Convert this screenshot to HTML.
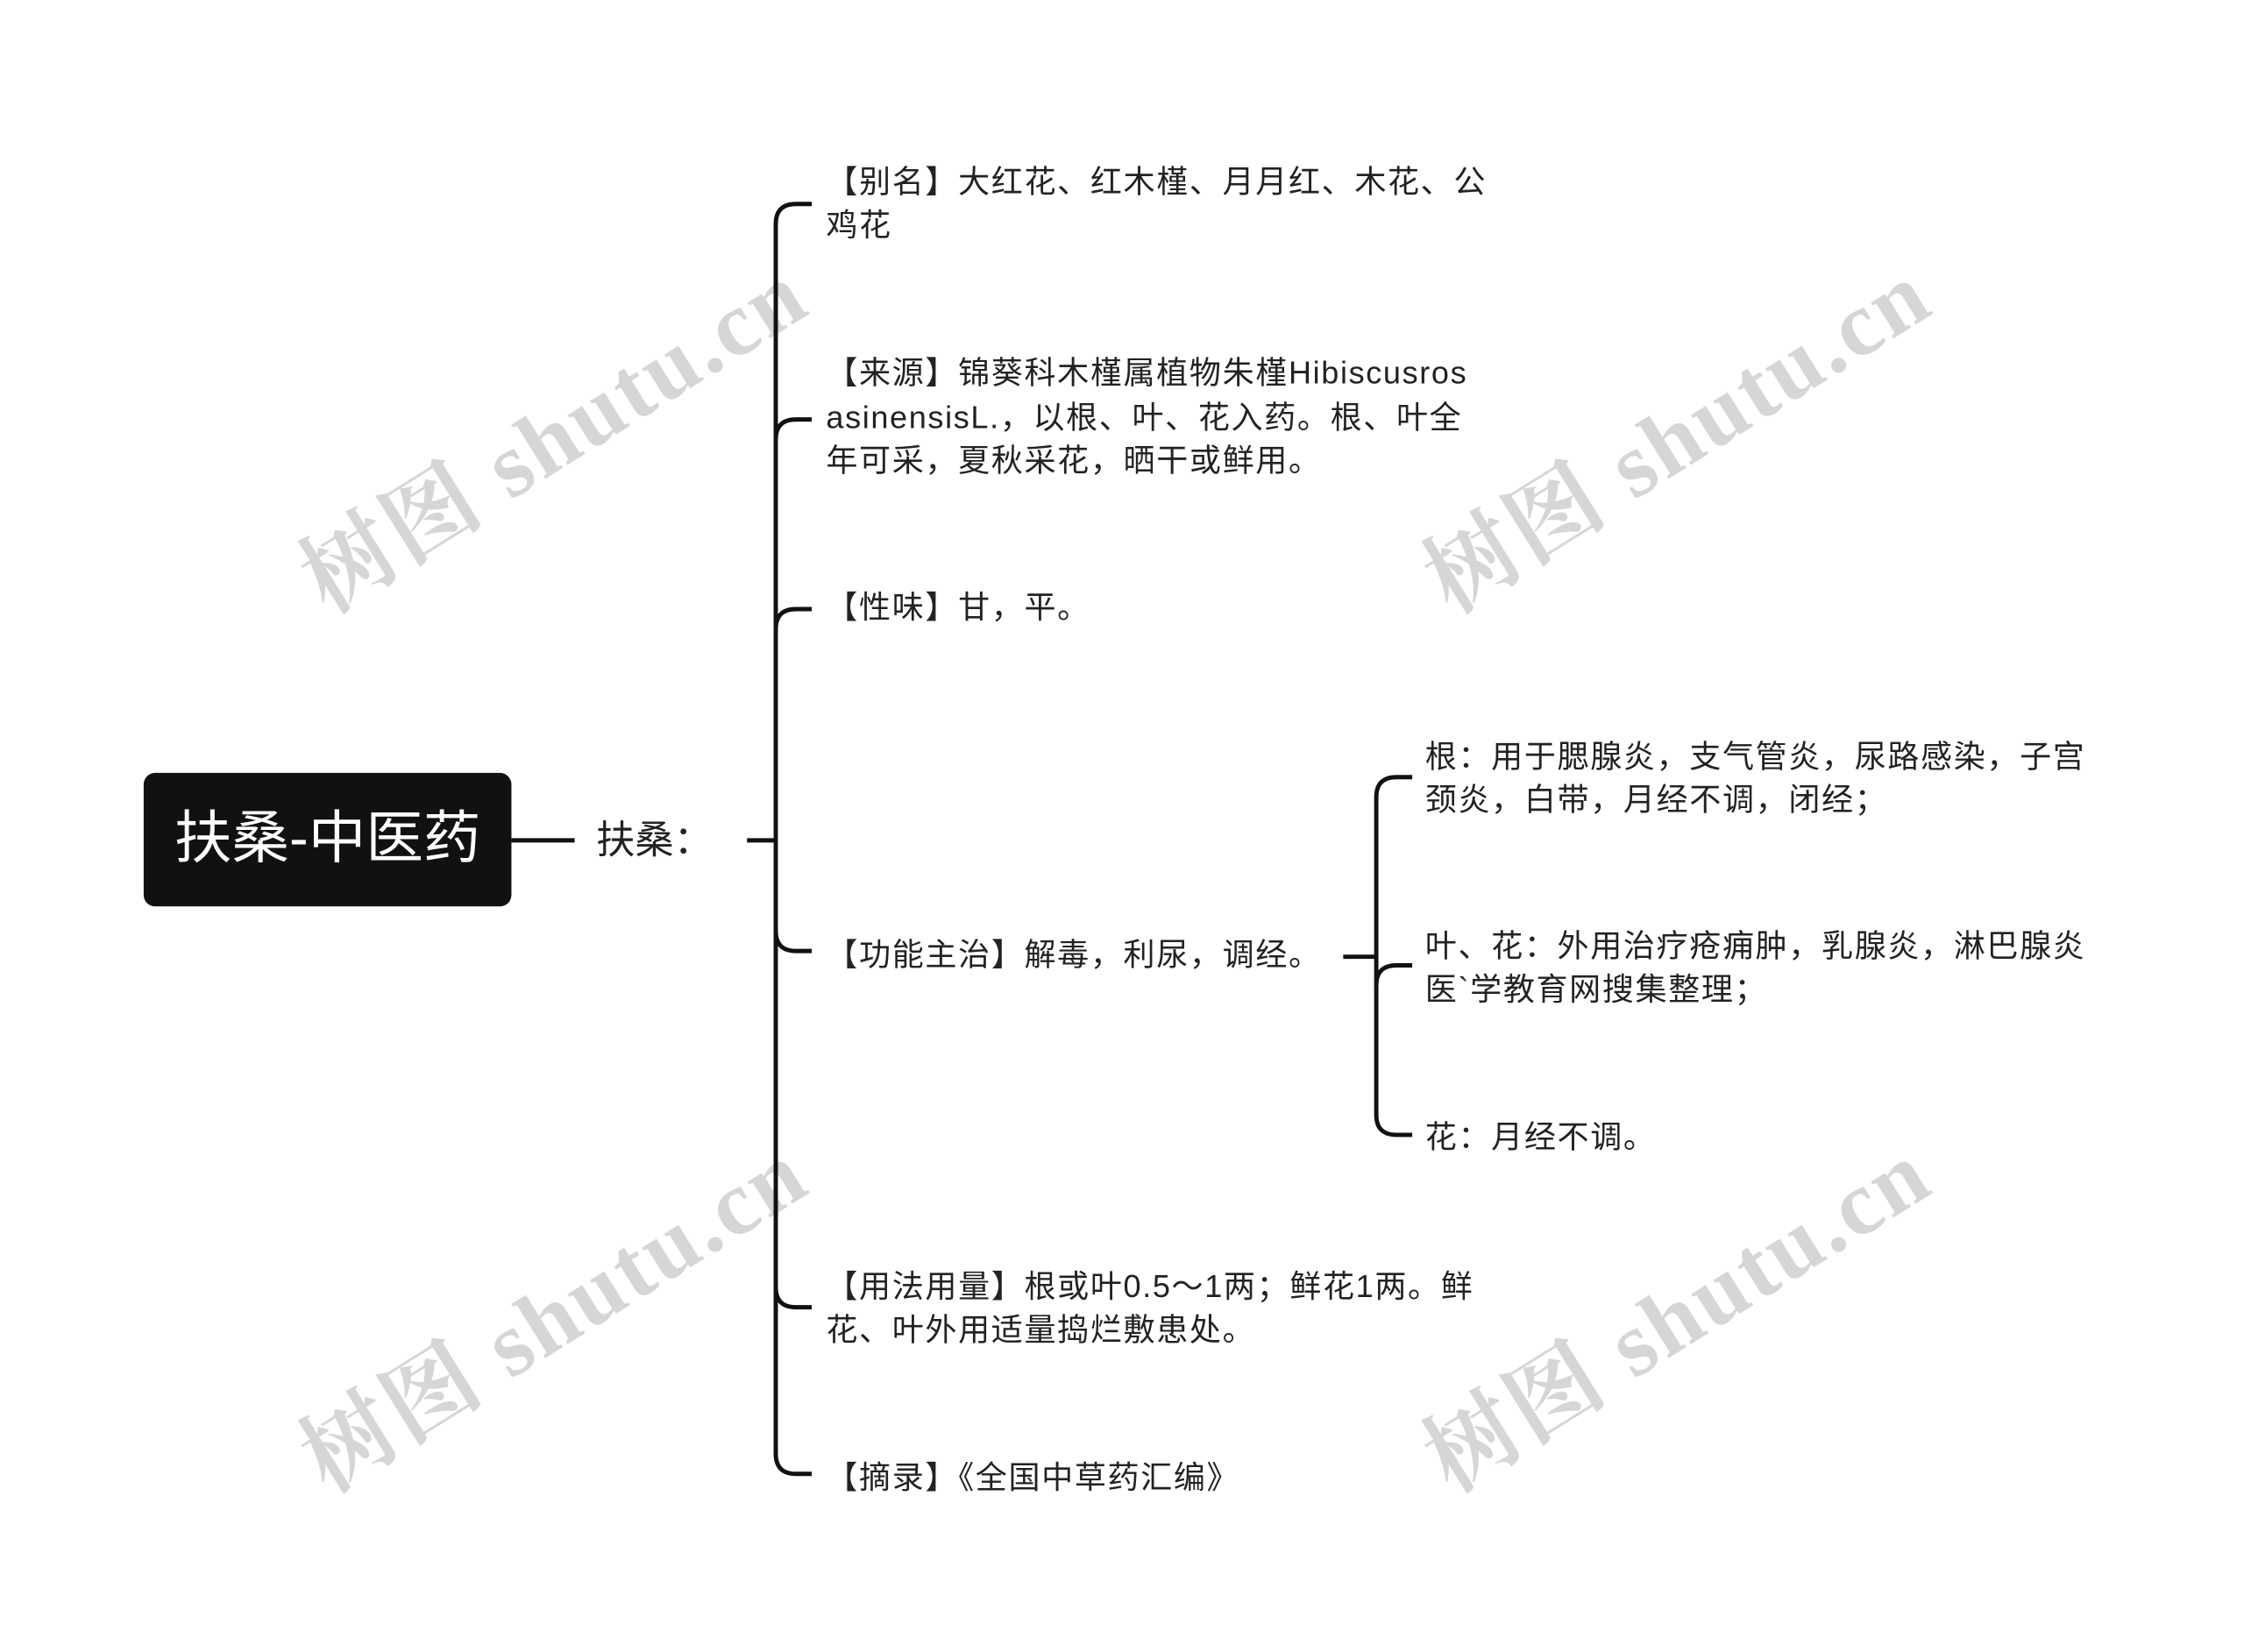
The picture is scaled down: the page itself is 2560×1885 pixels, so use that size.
<!DOCTYPE html>
<html><head><meta charset="utf-8"><style>html,body{margin:0;padding:0;background:#fff}svg{display:block}</style></head><body>
<svg width="2560" height="1885" viewBox="0 0 1562 1150" preserveAspectRatio="none" xmlns="http://www.w3.org/2000/svg">
<g font-family="Liberation Serif, 'Noto Serif CJK SC', serif" font-size="64" fill="#d6d6d6" font-weight="bold">
<text transform="translate(228,428) rotate(-32)" letter-spacing="2">树图 shutu.cn</text>
<text transform="translate(1010,428) rotate(-32)" letter-spacing="2">树图 shutu.cn</text>
<text transform="translate(228,1040) rotate(-32)" letter-spacing="2">树图 shutu.cn</text>
<text transform="translate(1010,1040) rotate(-32)" letter-spacing="2">树图 shutu.cn</text>
</g>
<rect x="100" y="538" width="256" height="93" rx="8" fill="#111"/>
<g font-family="'Liberation Sans','Noto Sans CJK SC',sans-serif">
<text x="228" y="597" font-size="40" fill="#fff" text-anchor="middle">扶桑-中医药</text>
<text x="415" y="594" font-size="27" fill="#222">扶桑：</text>
</g>
<g stroke="#111" stroke-width="3" fill="none">
<path d="M356 585 H400"/>
<path d="M520 585 H540"/>
<path d="M565 142 H554 Q540 142 540 156 V1012 Q540 1026 554 1026 H565"/>
<path d="M540 306 Q540 292 554 292 H565"/>
<path d="M540 438 Q540 424 554 424 H565"/>
<path d="M540 648 Q540 662 554 662 H565"/>
<path d="M540 896 Q540 910 554 910 H565"/>
<path d="M935 666 H958"/>
<path d="M983 541 H972 Q958 541 958 555 V776 Q958 790 972 790 H983"/>
<path d="M958 686 Q958 672 972 672 H983"/>
</g>
<g font-family="'Liberation Sans','Noto Sans CJK SC',sans-serif" font-size="22" fill="#222" letter-spacing="1">
<text x="575" y="134">【别名】大红花、红木槿、月月红、木花、公</text>
<text x="575" y="164">鸡花</text>
<text x="575" y="267">【来源】锦葵科木槿属植物朱槿Hibiscusros</text>
<text x="575" y="298">asinensisL.，以根、叶、花入药。根、叶全</text>
<text x="575" y="328">年可采，夏秋采花，晒干或鲜用。</text>
<text x="575" y="430">【性味】甘，平。</text>
<text x="575" y="672">【功能主治】解毒，利尿，调经。</text>
<text x="575" y="903">【用法用量】根或叶0.5～1两；鲜花1两。鲜</text>
<text x="575" y="933">花、叶外用适量捣烂敷患处。</text>
<text x="575" y="1036">【摘录】《全国中草药汇编》</text>
<text x="992" y="534">根：用于腮腺炎，支气管炎，尿路感染，子宫</text>
<text x="992" y="564">颈炎，白带，月经不调，闭经；</text>
<text x="992" y="666">叶、花：外用治疗疮痈肿，乳腺炎，淋巴腺炎</text>
<text x="992" y="696">医`学教育网搜集整理；</text>
<text x="992" y="799">花：月经不调。</text>
</g>
</svg>
</body></html>
